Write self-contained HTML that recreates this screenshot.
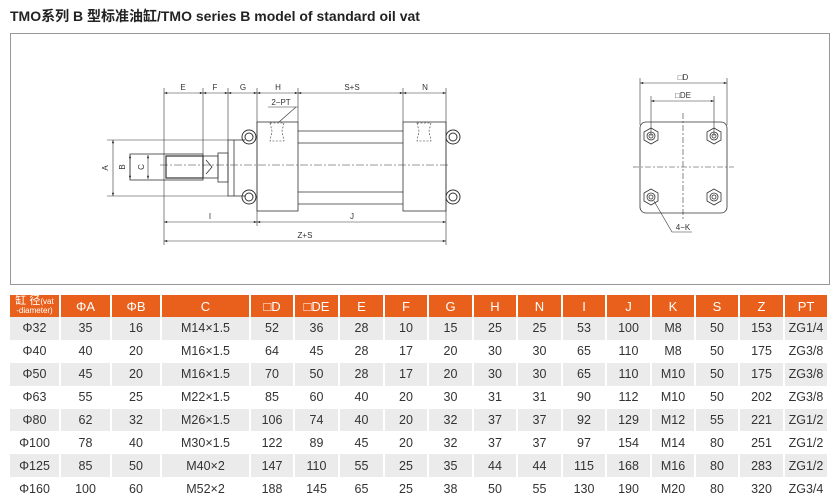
<!DOCTYPE html>
<html><head><meta charset="utf-8"><style>
body{margin:0;width:840px;height:502px;background:#fff;overflow:hidden;font-family:"Liberation Sans","Noto Sans CJK SC",sans-serif;}
.title{position:absolute;left:10px;top:6px;font-size:14px;font-weight:bold;color:#222;}
.box{position:absolute;left:10px;top:33px;width:818px;height:250px;border:1px solid #999;}
table{position:absolute;left:10px;top:295px;border-collapse:collapse;table-layout:fixed;width:818px;}
td{height:22.9px;padding:0;text-align:center;font-size:12.5px;color:#333;border-right:2px solid #fff;}
tr.h td{background:#e8601c;color:#fff;height:22px;font-size:13px;}
tr.g td{background:#ebebeb;}
svg{position:absolute;left:0;top:0;}
svg text{font-family:"Liberation Sans",sans-serif;font-size:8px;fill:#333;}
</style></head><body>
<div class="title">TMO系列 B 型标准油缸/TMO series B model of standard oil vat</div>
<div class="box"></div>
<svg width="840" height="290" viewBox="0 0 840 290" stroke="#333" fill="none" stroke-width="0.8">
<defs><marker id="a" viewBox="0 0 8 6" refX="8" refY="3" markerWidth="6" markerHeight="4" orient="auto-start-reverse"><path d="M0 0L8 3L0 6z" fill="#333" stroke="none"/></marker></defs>
<!-- extension lines -->
<g stroke-width="0.6">
<line x1="164" y1="88" x2="164" y2="245"/><line x1="203" y1="88" x2="203" y2="154"/><line x1="228" y1="88" x2="228" y2="140"/><line x1="257" y1="88" x2="257" y2="226"/><line x1="298" y1="88" x2="298" y2="122"/><line x1="403" y1="88" x2="403" y2="122"/><line x1="446" y1="88" x2="446" y2="245"/>
<line x1="107" y1="140" x2="228" y2="140"/><line x1="107" y1="196" x2="228" y2="196"/>
</g>
<g marker-start="url(#a)" marker-end="url(#a)" stroke-width="0.6">
<line x1="164" y1="93" x2="203" y2="93"/><line x1="203" y1="93" x2="228" y2="93"/><line x1="228" y1="93" x2="257" y2="93"/><line x1="257" y1="93" x2="298" y2="93"/><line x1="298" y1="93" x2="403" y2="93"/><line x1="403" y1="93" x2="446" y2="93"/>
<line x1="113" y1="140" x2="113" y2="196"/><line x1="130" y1="155" x2="130" y2="179"/><line x1="148" y1="155" x2="148" y2="179"/>
<line x1="164" y1="222" x2="257" y2="222"/><line x1="257" y1="222" x2="446" y2="222"/><line x1="164" y1="241" x2="446" y2="241"/>
<line x1="640" y1="83" x2="727" y2="83"/><line x1="651" y1="101" x2="714" y2="101"/>
</g>
<g stroke="none">
<text x="183" y="90" text-anchor="middle">E</text><text x="215" y="90" text-anchor="middle">F</text><text x="243" y="90" text-anchor="middle">G</text><text x="278" y="90" text-anchor="middle">H</text><text x="352" y="90" text-anchor="middle">S+S</text><text x="425" y="90" text-anchor="middle">N</text>
<text x="281" y="105" text-anchor="middle">2−PT</text>
<text x="210" y="219" text-anchor="middle">I</text><text x="352" y="219" text-anchor="middle">J</text><text x="305" y="238" text-anchor="middle">Z+S</text>
<text x="108" y="168" transform="rotate(-90 108 168)" text-anchor="middle">A</text>
<text x="125" y="167" transform="rotate(-90 125 167)" text-anchor="middle">B</text>
<text x="144" y="167" transform="rotate(-90 144 167)" text-anchor="middle">C</text>
<text x="683" y="80" text-anchor="middle">□D</text><text x="683" y="98" text-anchor="middle">□DE</text>
<text x="683" y="230" text-anchor="middle">4−K</text>
</g>
<line x1="268" y1="107" x2="298" y2="107" stroke-width="0.6"/><line x1="296" y1="107" x2="279" y2="122" stroke-width="0.6"/>
<!-- cylinder -->
<rect x="257" y="122" width="41" height="89"/><rect x="403" y="122" width="43" height="89"/>
<line x1="298" y1="131" x2="403" y2="131"/><line x1="298" y1="143" x2="403" y2="143"/>
<line x1="298" y1="192" x2="403" y2="192"/><line x1="298" y1="204" x2="403" y2="204"/>
<path d="M270 123 h14 l-2 8 l2 10 h-14 l2 -10z" stroke-dasharray="2 1.5" stroke-width="0.6"/>
<path d="M417 123 h14 l-2 8 l2 10 h-14 l2 -10z" stroke-dasharray="2 1.5" stroke-width="0.6"/>
<rect x="228" y="140" width="6" height="56"/><line x1="234" y1="140" x2="245" y2="140"/><line x1="234" y1="196" x2="245" y2="196"/>
<rect x="218" y="153" width="10" height="29"/>
<rect x="203" y="156" width="15" height="22"/><path d="M206 160 l6 7 l-6 7"/>
<rect x="130" y="154" width="73" height="26"/><rect x="166" y="156" width="37" height="22" stroke-width="1.2"/>
<g stroke-width="1">
<circle cx="249" cy="137" r="7"/><circle cx="249" cy="137" r="4"/><circle cx="249" cy="197" r="7"/><circle cx="249" cy="197" r="4"/>
<circle cx="453" cy="137" r="7"/><circle cx="453" cy="137" r="4"/><circle cx="453" cy="197" r="7"/><circle cx="453" cy="197" r="4"/>
</g>
<line x1="160" y1="165" x2="450" y2="165" stroke-dasharray="8 2 2 2" stroke-width="0.6"/>
<!-- end view -->
<line x1="640" y1="78" x2="640" y2="125" stroke-width="0.6"/><line x1="727" y1="78" x2="727" y2="125" stroke-width="0.6"/>
<line x1="651" y1="96" x2="651" y2="136" stroke-width="0.6"/><line x1="714" y1="96" x2="714" y2="136" stroke-width="0.6"/>
<rect x="640" y="122" width="87" height="91" rx="6"/>
<line x1="683" y1="113" x2="683" y2="220" stroke-dasharray="6 2 2 2" stroke-width="0.6"/>
<line x1="633" y1="167" x2="734" y2="167" stroke-dasharray="6 2 2 2" stroke-width="0.6"/>
<g stroke-width="0.8">
<polygon points="651,128 658,132 658,140 651,144 644,140 644,132"/><circle cx="651" cy="136" r="4"/><circle cx="651" cy="136" r="2"/>
<polygon points="714,128 721,132 721,140 714,144 707,140 707,132"/><circle cx="714" cy="136" r="4"/><circle cx="714" cy="136" r="2"/>
<polygon points="651,189 658,193 658,201 651,205 644,201 644,193"/><circle cx="651" cy="197" r="4"/><circle cx="651" cy="197" r="2"/>
<polygon points="714,189 721,193 721,201 714,205 707,201 707,193"/><circle cx="714" cy="197" r="4"/><circle cx="714" cy="197" r="2"/>
</g>
<path d="M654 201 L672 232 H692" stroke-width="0.6"/>
</svg>
<table>
<colgroup><col style="width:50px"><col style="width:51px"><col style="width:50px"><col style="width:89px"><col style="width:44px"><col style="width:45px"><col style="width:45px"><col style="width:44px"><col style="width:45px"><col style="width:44px"><col style="width:45px"><col style="width:44px"><col style="width:45px"><col style="width:44px"><col style="width:44px"><col style="width:45px"><col style="width:44px"></colgroup>
<tr class="h"><td style="font-size:11px;line-height:9px">缸 径<span style="font-size:8px">(vat<br>-diameter)</span></td><td>ΦA</td><td>ΦB</td><td>C</td><td>□D</td><td>□DE</td><td>E</td><td>F</td><td>G</td><td>H</td><td>N</td><td>I</td><td>J</td><td>K</td><td>S</td><td>Z</td><td>PT</td></tr>
<tr class="g"><td>Φ32</td><td>35</td><td>16</td><td>M14×1.5</td><td>52</td><td>36</td><td>28</td><td>10</td><td>15</td><td>25</td><td>25</td><td>53</td><td>100</td><td>M8</td><td>50</td><td>153</td><td>ZG1/4</td></tr>
<tr><td>Φ40</td><td>40</td><td>20</td><td>M16×1.5</td><td>64</td><td>45</td><td>28</td><td>17</td><td>20</td><td>30</td><td>30</td><td>65</td><td>110</td><td>M8</td><td>50</td><td>175</td><td>ZG3/8</td></tr>
<tr class="g"><td>Φ50</td><td>45</td><td>20</td><td>M16×1.5</td><td>70</td><td>50</td><td>28</td><td>17</td><td>20</td><td>30</td><td>30</td><td>65</td><td>110</td><td>M10</td><td>50</td><td>175</td><td>ZG3/8</td></tr>
<tr><td>Φ63</td><td>55</td><td>25</td><td>M22×1.5</td><td>85</td><td>60</td><td>40</td><td>20</td><td>30</td><td>31</td><td>31</td><td>90</td><td>112</td><td>M10</td><td>50</td><td>202</td><td>ZG3/8</td></tr>
<tr class="g"><td>Φ80</td><td>62</td><td>32</td><td>M26×1.5</td><td>106</td><td>74</td><td>40</td><td>20</td><td>32</td><td>37</td><td>37</td><td>92</td><td>129</td><td>M12</td><td>55</td><td>221</td><td>ZG1/2</td></tr>
<tr><td>Φ100</td><td>78</td><td>40</td><td>M30×1.5</td><td>122</td><td>89</td><td>45</td><td>20</td><td>32</td><td>37</td><td>37</td><td>97</td><td>154</td><td>M14</td><td>80</td><td>251</td><td>ZG1/2</td></tr>
<tr class="g"><td>Φ125</td><td>85</td><td>50</td><td>M40×2</td><td>147</td><td>110</td><td>55</td><td>25</td><td>35</td><td>44</td><td>44</td><td>115</td><td>168</td><td>M16</td><td>80</td><td>283</td><td>ZG1/2</td></tr>
<tr><td>Φ160</td><td>100</td><td>60</td><td>M52×2</td><td>188</td><td>145</td><td>65</td><td>25</td><td>38</td><td>50</td><td>55</td><td>130</td><td>190</td><td>M20</td><td>80</td><td>320</td><td>ZG3/4</td></tr>
</table>
</body></html>
